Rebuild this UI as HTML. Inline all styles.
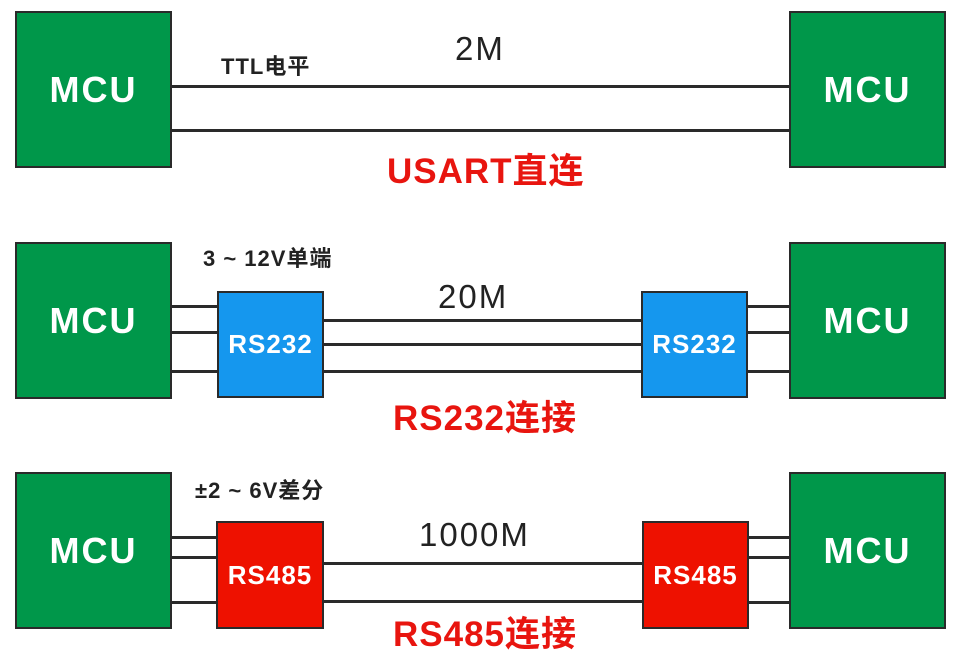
<!DOCTYPE html>
<html><head><meta charset="utf-8"><style>
body{margin:0;width:967px;height:655px;background:#fff;position:relative;overflow:hidden;font-family:"Liberation Sans","Noto Sans CJK SC",sans-serif}
.b{position:absolute;box-sizing:border-box;border:2px solid #2a2a2a;color:#fff;font-weight:bold;display:flex;align-items:center;justify-content:center}
.m{background:#00974a;font-size:36px;letter-spacing:2px}
.s{background:#1597ee;font-size:26px;letter-spacing:1px}
.r{background:#ee1100;font-size:26px;letter-spacing:1px}
.l{position:absolute;height:3px;background:#2a2a2a}
.t{position:absolute;white-space:nowrap}
.k{font-weight:bold;font-size:22px;color:#222;letter-spacing:1px}
.n{font-size:33px;color:#222;letter-spacing:2px}
.h{font-weight:bold;font-size:35px;color:#e8150f;letter-spacing:1px}
</style></head><body>
<!-- row1 -->
<div class="l" style="left:170px;width:621px;top:85px"></div>
<div class="l" style="left:170px;width:621px;top:129px"></div>
<div class="b m" style="left:15px;top:11px;width:157px;height:157px">MCU</div>
<div class="b m" style="left:789px;top:11px;width:157px;height:157px">MCU</div>
<div class="t k" style="left:221px;top:49px">TTL电平</div>
<div class="t n" style="left:455px;top:30px">2M</div>
<div class="t h" style="left:387px;top:143px">USART直连</div>
<!-- row2 -->
<div class="l" style="left:170px;width:50px;top:305px"></div>
<div class="l" style="left:170px;width:50px;top:331px"></div>
<div class="l" style="left:170px;width:50px;top:370px"></div>
<div class="l" style="left:322px;width:322px;top:319px"></div>
<div class="l" style="left:322px;width:322px;top:343px"></div>
<div class="l" style="left:322px;width:322px;top:370px"></div>
<div class="l" style="left:746px;width:45px;top:305px"></div>
<div class="l" style="left:746px;width:45px;top:331px"></div>
<div class="l" style="left:746px;width:45px;top:370px"></div>
<div class="b m" style="left:15px;top:242px;width:157px;height:157px">MCU</div>
<div class="b m" style="left:789px;top:242px;width:157px;height:157px">MCU</div>
<div class="b s" style="left:217px;top:291px;width:107px;height:107px">RS232</div>
<div class="b s" style="left:641px;top:291px;width:107px;height:107px">RS232</div>
<div class="t k" style="left:203px;top:241px">3 ~ 12V单端</div>
<div class="t n" style="left:438px;top:278px">20M</div>
<div class="t h" style="left:393px;top:390px">RS232连接</div>
<!-- row3 -->
<div class="l" style="left:170px;width:50px;top:536px"></div>
<div class="l" style="left:170px;width:50px;top:556px"></div>
<div class="l" style="left:170px;width:50px;top:601px"></div>
<div class="l" style="left:322px;width:322px;top:562px"></div>
<div class="l" style="left:322px;width:322px;top:600px"></div>
<div class="l" style="left:746px;width:45px;top:536px"></div>
<div class="l" style="left:746px;width:45px;top:556px"></div>
<div class="l" style="left:746px;width:45px;top:601px"></div>
<div class="b m" style="left:15px;top:472px;width:157px;height:157px">MCU</div>
<div class="b m" style="left:789px;top:472px;width:157px;height:157px">MCU</div>
<div class="b r" style="left:216px;top:521px;width:108px;height:108px">RS485</div>
<div class="b r" style="left:642px;top:521px;width:107px;height:108px">RS485</div>
<div class="t k" style="left:195px;top:473px">±2 ~ 6V差分</div>
<div class="t n" style="left:419px;top:516px">1000M</div>
<div class="t h" style="left:393px;top:606px">RS485连接</div>
</body></html>
